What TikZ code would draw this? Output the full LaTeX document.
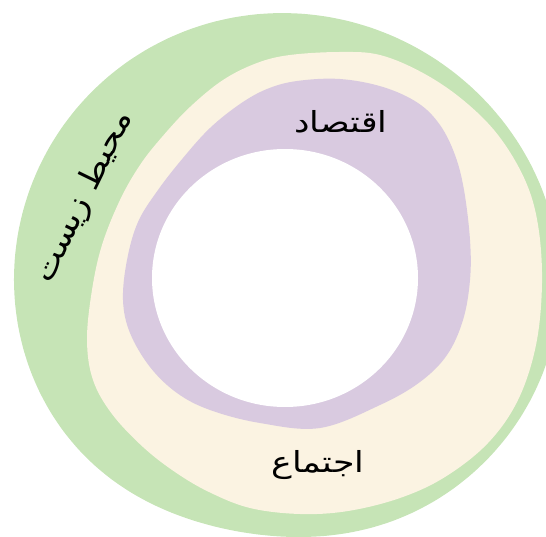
\documentclass[tikz,border=0pt]{standalone}
\usepackage{fontspec}
\newfontfamily\arabicfont[Script=Arabic]{DejaVu Sans}
\TeXXeTstate=1
\definecolor{envgreen}{RGB}{198,228,182}
\definecolor{soccream}{RGB}{251,243,226}
\definecolor{ecopurple}{RGB}{217,202,224}
\tikzset{
  label/.style={font=\arabicfont\fontsize{29}{34}\selectfont, text=black, inner sep=0pt, xscale=1.2},
  biglabel/.style={font=\arabicfont\fontsize{31}{36}\selectfont, text=black, inner sep=0pt, xscale=1.12}
}
\begin{document}
\begin{tikzpicture}[x=1pt,y=-1pt]
\useasboundingbox (0,0) rectangle (546,537);
\begin{scope}
\clip (0,0) rectangle (546,537);
\fill[envgreen] plot[smooth cycle, domain=0:355, samples=72, variable=\t]
 ({280+(266+14*exp(2.5*(cos(\t-5)-1))-12*exp(6*(cos(\t-100)-1)))*cos(\t)},
  {280+(266+14*exp(2.5*(cos(\t-5)-1))-12*exp(6*(cos(\t-100)-1)))*sin(\t)});
\end{scope}
\fill[soccream] plot[smooth cycle, tension=0.6] coordinates {
 (290,55) (340,52) (380,55) (423,73) (463,100) (498,135) (525,180)
 (538,225) (542,283) (536,345) (518,400) (488,443) (445,477) (400,498)
 (348,511) (300,514) (250,508) (209,492) (175,472) (143,447) (112,414)
 (93,380) (87,340) (92,290) (102,245) (120,200) (140,165) (162,137)
 (190,107) (223,80) (257,63)};
\fill[ecopurple] plot[smooth cycle, tension=0.6] coordinates {
 (297,81) (340,79) (383,87) (418,103) (440,125) (455,155) (464,190)
 (470,240) (470,280) (463,320) (447,355) (420,382) (380,405) (320,428)
 (260,423) (210,410) (177,393) (150,367) (130,333) (123,300) (127,260)
 (138,222) (158,190) (183,158) (210,128) (240,104) (267,89)};
\fill[white] (285,278) ellipse [x radius=133, y radius=129];
\node[label, anchor=base] (eco) at (341,133) {\beginR اقتصاد\endR};
\node[label, anchor=base] (soc) at (318,472) {\beginR اجتماع\endR};
\node[rotate=64, biglabel] (env) at (84,197) {\beginR محیط زیست\endR};
\end{tikzpicture}
\end{document}
